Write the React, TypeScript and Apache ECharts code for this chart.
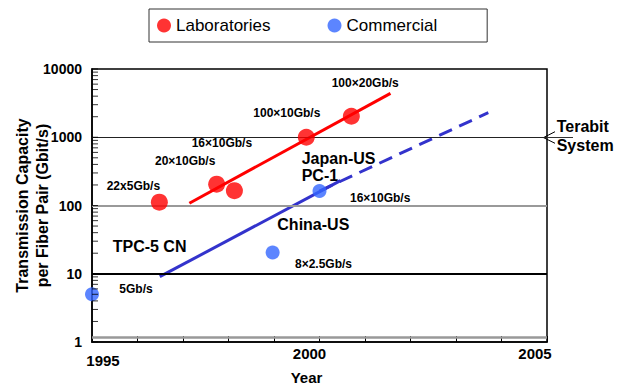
import React, { useEffect, useRef } from "react";
import * as echarts from "echarts";

// ---- Data ----
const legendNames = ["Laboratories", "Commercial"];

const labYears = [1996.48, 1997.74, 1998.13, 1999.71, 2000.7];
const labCapacity = [112, 205, 165, 1000, 2030];
const labLabels = ["22x5Gb/s", "20×10Gb/s", "16×10Gb/s", "100×10Gb/s", "100×20Gb/s"];

const comYears = [1995, 1998.97, 2000.0];
const comCapacity = [5, 20.5, 163];
const comLabels = ["5Gb/s", "8×2.5Gb/s", "16×10Gb/s"];

const labTrendYears = [1997.14, 2001.56];
const labTrendCapacity = [108, 4400];
const comTrendYears = [1996.49, 2000.46];
const comTrendCapacity = [9.06, 231];
const comForecastYears = [2000.0, 2003.71];
const comForecastCapacity = [163, 2290];

const systemNames = ["TPC-5 CN", "China-US", "Japan-US", "PC-1"];
const terabitText = ["Terabit", "System"];

const yearTickLabels = [1995, 2000, 2005];
const capacityTickLabels = [1, 10, 100, 1000, 10000];

const FONT = '"Liberation Sans", Arial, sans-serif';

export default function App() {
  const ref = useRef<HTMLDivElement>(null);
  useEffect(() => {
    document.body.style.margin = "0";
    if (!ref.current) return;
    const chart = echarts.init(ref.current, null, { renderer: "svg" });

    const yMin = capacityTickLabels[0];
    const yMax = capacityTickLabels[capacityTickLabels.length - 1];
    const xMin = yearTickLabels[0];
    const xMax = yearTickLabels[yearTickLabels.length - 1];

    // logarithmic minor tick positions (1..9 per decade)
    const logTicks: number[] = [];
    for (let d = yMin; d < yMax; d *= 10) for (let k = 1; k < 10; k++) logTicks.push(d * k);
    logTicks.push(yMax);

    const labPos = [
      [106.7, 186],
      [155, 161],
      [191.7, 143],
      [253.3, 112.5],
      [331.7, 82.5],
    ];
    const comPos = [
      [119.3, 289],
      [295, 264],
      [350, 197.5],
    ];
    const sysPos = [
      [112.7, 246.5],
      [277.3, 224],
      [301.7, 158.5],
      [301.7, 175.5],
    ];

    const txt = (text: string, x: number, y: number, size: number, bold = true) => ({
      type: "text",
      x,
      y,
      silent: true,
      style: {
        text,
        font: `${bold ? "bold " : ""}${size}px ${FONT}`,
        fill: "#000",
        align: "left",
        verticalAlign: "middle",
      },
    });

    const graphic: any[] = [];
    labLabels.forEach((t, i) => graphic.push(txt(t, labPos[i][0], labPos[i][1], 12)));
    comLabels.forEach((t, i) => graphic.push(txt(t, comPos[i][0], comPos[i][1], 12)));
    systemNames.forEach((t, i) => graphic.push(txt(t, sysPos[i][0], sysPos[i][1], 16)));
    graphic.push(txt(terabitText[0], 556.7, 126.3, 16));
    graphic.push(txt(terabitText[1], 556.7, 145.3, 16));
    graphic.push({
      type: "line",
      silent: true,
      shape: { x1: 547, y1: 137.5, x2: 573, y2: 137.5 },
      style: { stroke: "#333", lineWidth: 1 },
    });
    graphic.push({
      type: "polyline",
      silent: true,
      shape: { points: [[555, 131.7], [543.5, 137.6], [555, 143.3]] },
      style: { stroke: "#000", lineWidth: 1, fill: null },
    });

    const base = { fontSize: 15, fontWeight: "bold", fontFamily: FONT, color: "#000" };
    const labelRich: any = {
      s: { fontSize: 1, lineHeight: 7 },
      a: { ...base, lineHeight: 15, padding: [0, 0, 0, 22] },
      b: { ...base, lineHeight: 15, padding: [0, 20, 0, 0] },
      c: { ...base, lineHeight: 15, padding: [0, 24, 0, 0] },
    };

    chart.setOption({
      animation: false,
      textStyle: { fontFamily: FONT },
      legend: {
        data: legendNames,
        left: 149,
        top: 9,
        orient: "horizontal",
        icon: "circle",
        itemWidth: 14,
        itemHeight: 14,
        itemGap: 57,
        padding: [8, 50, 8, 8],
        borderColor: "#333",
        borderWidth: 1,
        textStyle: { fontSize: 17, color: "#000", fontFamily: FONT },
      },
      grid: {
        left: 92,
        right: 77,
        top: 69,
        bottom: 43,
        show: true,
        borderColor: "#000",
        borderWidth: 1.5,
        backgroundColor: "transparent",
        outerBoundsMode: "none",
      },
      xAxis: {
        type: "value",
        min: xMin,
        max: xMax,
        interval: 1,
        name: "Year",
        nameLocation: "middle",
        nameGap: 28,
        nameMoveOverlap: false,
        nameTextStyle: { fontSize: 15, fontWeight: "bold", color: "#000", padding: [0, 26, 0, 0] },
        axisLine: { show: true, lineStyle: { color: "#000", width: 1.5 } },
        axisTick: { show: true, inside: true, length: 6, lineStyle: { color: "#000", width: 1 } },
        splitLine: { show: false },
        axisLabel: {
          margin: 4,
          showMinLabel: true,
          showMaxLabel: true,
          formatter: (v: number) => {
            const idx = yearTickLabels.indexOf(Math.round(v));
            if (idx < 0 || Math.abs(v - Math.round(v)) > 1e-6) return "";
            if (idx === 0) return `{s| }\n{a|${yearTickLabels[idx]}}`;
            return `{${["a", "b", "c"][idx]}|${yearTickLabels[idx]}}`;
          },
          rich: labelRich,
        },
      },
      yAxis: {
        type: "log",
        logBase: 10,
        min: yMin,
        max: yMax,
        name: "Transmission Capacity\nper Fiber Pair (Gbit/s)",
        nameLocation: "middle",
        nameGap: 40,
        nameMoveOverlap: false,
        nameTextStyle: { fontSize: 16, fontWeight: "bold", color: "#000", lineHeight: 20 },
        axisLine: { show: true, lineStyle: { color: "#000", width: 1.5 } },
        axisTick: { show: false },
        splitLine: { show: false },
        axisLabel: {
          margin: 10,
          fontSize: 14,
          fontWeight: "bold",
          color: "#000",
          formatter: (v: number) => String(v),
        },
      },
      graphic,
      series: [
        {
          name: "yTicks",
          type: "scatter",
          silent: true,
          z: 6,
          data: logTicks.map((v) => [xMin, v]),
          symbol: "rect",
          symbolSize: [6, 1],
          symbolOffset: [3, 0],
          itemStyle: { color: "#000" },
          emphasis: { disabled: true },
        },
        {
          name: "labTrend",
          type: "line",
          data: labTrendYears.map((x, i) => [x, labTrendCapacity[i]]),
          symbol: "none",
          lineStyle: { color: "#ff0000", width: 3 },
          z: 2,
          markLine: {
            silent: true,
            symbol: ["none", "none"],
            label: { show: false },
            animation: false,
            data: [
              { yAxis: 1000, lineStyle: { color: "#222", width: 1, type: "solid" } },
              { yAxis: 100, lineStyle: { color: "#999", width: 2, type: "solid" } },
              { yAxis: 10, lineStyle: { color: "#000", width: 2, type: "solid" } },
              { yAxis: 1.18, lineStyle: { color: "#999", width: 2.5, type: "solid" } },
            ],
          },
        },
        {
          name: "comTrend",
          type: "line",
          data: comTrendYears.map((x, i) => [x, comTrendCapacity[i]]),
          symbol: "none",
          lineStyle: { color: "#3333cc", width: 3 },
          z: 2,
        },
        {
          name: "comForecast",
          type: "line",
          data: comForecastYears.map((x, i) => [x, comForecastCapacity[i]]),
          symbol: "none",
          lineStyle: { color: "#3333cc", width: 3, type: [14, 8] },
          z: 2,
        },
        {
          name: "Laboratories",
          type: "scatter",
          data: labYears.map((x, i) => [x, labCapacity[i]]),
          symbol: "circle",
          symbolSize: 17,
          itemStyle: { color: "#ff0000" },
          z: 5,
        },
        {
          name: "Commercial",
          type: "scatter",
          data: comYears.map((x, i) => [x, comCapacity[i]]),
          symbol: "circle",
          symbolSize: 14,
          itemStyle: { color: "#3366ff" },
          z: 5,
        },
      ],
    });
    return () => chart.dispose();
  }, []);
  return <div ref={ref} style={{ width: 624, height: 385 }} />;
}
